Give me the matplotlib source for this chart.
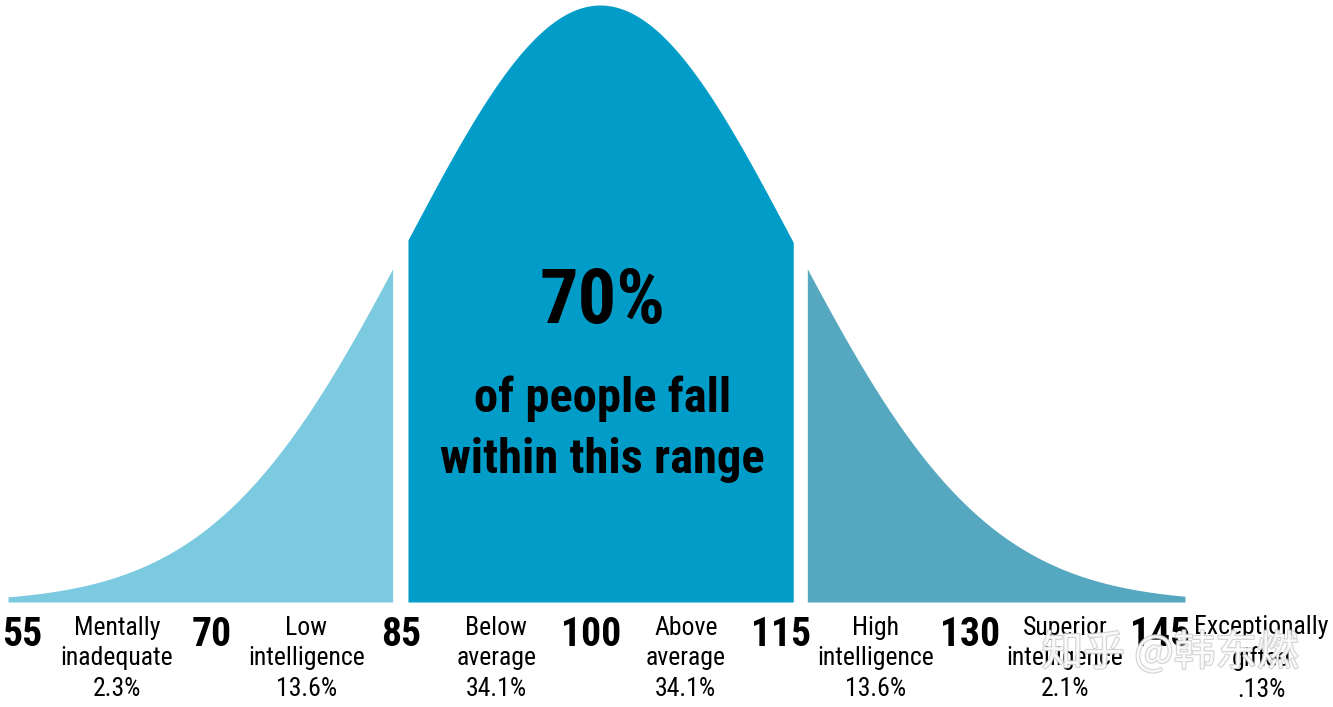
import numpy as np
import matplotlib
matplotlib.use("Agg")
import matplotlib.pyplot as plt
import matplotlib.patheffects as pe
from matplotlib import font_manager

# IQ scale
iq_mean = 100
iq_sd = 15
iq_ticks = [55, 70, 85, 100, 115, 130, 145]
categories = ["Mentally\ninadequate", "Low\nintelligence", "Below\naverage", "Above\naverage",
              "High\nintelligence", "Superior\nintelligence", "Exceptionally\ngifted"]
shares = ["2.3%", "13.6%", "34.1%", "34.1%", "13.6%", "2.1%", ".13%"]
cat_centers = [62.5, 77.5, 92.5, 107.5, 122.5, 137.5, 153]

# shaded regions of the curve (start, end) and colours
regions = [(53.75, 83.8), (85.0, 115.1), (116.2, 145.7)]
region_colors = ["#7bcae0", "#019dc8", "#55a8c0"]

# pick a narrow face if one is around
names = {f.name for f in font_manager.fontManager.ttflist}
narrow = "Roboto"
for cand in ["Liberation Sans Narrow", "Roboto Condensed", "Open Sans Condensed",
             "Noto Sans Condensed", "DejaVu Sans Condensed"]:
    if cand in names:
        narrow = cand
        break
stretch = "condensed"

fig = plt.figure(figsize=(13.33, 7.07), dpi=100)
ax = fig.add_axes([0, 0, 1, 1])
ax.set_xlim(53.125, 157.27)
ax.set_ylim(-0.1759, 1.0084)
ax.axis("off")

# labels sit on a slightly tighter scale than the curve
lab = fig.add_axes([0, 0, 1, 1])
lab.set_xlim(53.26, 158.69)
lab.set_ylim(-0.1759, 1.0084)
lab.axis("off")

def bell(x):
    return np.exp(-0.5 * ((x - iq_mean) / iq_sd) ** 2)

for (a, b), c in zip(regions, region_colors):
    xs = np.linspace(a, b, 300)
    ax.fill_between(xs, 0, bell(xs), color=c, linewidth=0)

# big centre text
ax.text(100.2, 0.5025, "70%", ha="center", va="center", fontsize=55,
        fontweight="bold", family=narrow, fontstretch=stretch)
ax.text(100.2, 0.2898, "of people fall\nwithin this range", ha="center", va="center",
        fontsize=35, fontweight="bold", family=narrow, fontstretch=stretch, linespacing=1.42)

# IQ numbers along the bottom
for v in iq_ticks:
    lab.text(v, -0.0553, str(v), ha="center", va="center", fontsize=28.5,
             fontweight="bold", family=narrow, fontstretch=stretch)

# category names and shares
for xc, cat, s in zip(cat_centers, categories, shares):
    lab.text(xc, -0.0945, cat + "\n" + s, ha="center", va="center", fontsize=18.5,
             family=narrow, fontstretch=stretch, linespacing=1.36)

# watermark
lab.text(145.8, -0.085, "知乎 @韩东燃", ha="center", va="center", fontsize=30,
         family=["Noto Sans CJK SC", "DejaVu Sans"], color="white", alpha=0.8,
         path_effects=[pe.withStroke(linewidth=1.5, foreground="#c8c8c8")])

fig.savefig("out.png", dpi=100)
